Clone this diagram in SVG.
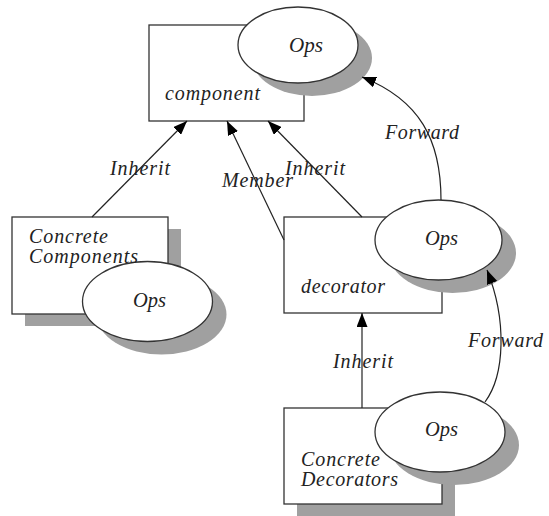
<svg xmlns="http://www.w3.org/2000/svg" width="549" height="516" viewBox="0 0 549 516">
<defs>
<style>
.box{fill:#fff;stroke:#333;stroke-width:1.3}
.shadow{fill:#a0a0a0;stroke:none}
.edge{fill:none;stroke:#222;stroke-width:1.2}
text{font-family:"Liberation Serif","Times New Roman",serif;font-style:italic;font-size:20px;fill:#222}
</style>
<marker id="arr" markerUnits="userSpaceOnUse" markerWidth="14" markerHeight="11" refX="14" refY="5.5" orient="auto">
<path d="M0,0 L14,5.5 L0,11 z" fill="#000"/>
</marker>
</defs>
<rect width="549" height="516" fill="#fff"/>

<g id="component">
<rect class="box" x="149" y="25" width="155" height="96"/>
<ellipse class="shadow" cx="312" cy="58" rx="60" ry="38"/>
<ellipse class="box" cx="298" cy="45" rx="60" ry="38"/>
<text x="289" y="52" textLength="34" lengthAdjust="spacingAndGlyphs">Ops</text>
<text x="165" y="100" textLength="95" lengthAdjust="spacing">component</text>
</g>

<g id="concrete-components">
<rect class="shadow" x="25" y="229" width="156" height="97"/>
<rect class="box" x="12" y="217" width="156" height="97"/>
<ellipse class="shadow" cx="161.5" cy="314.5" rx="65" ry="40"/>
<ellipse class="box" cx="147.5" cy="301.5" rx="65" ry="40"/>
<text x="29" y="243" textLength="79" lengthAdjust="spacing">Concrete</text>
<text x="29" y="263" textLength="109" lengthAdjust="spacing">Components</text>
<text x="133" y="307" textLength="33" lengthAdjust="spacingAndGlyphs">Ops</text>
</g>

<g id="decorator">
<rect class="box" x="284" y="217" width="158" height="96"/>
<ellipse class="shadow" cx="452.5" cy="253" rx="63.5" ry="40"/>
<ellipse class="box" cx="438.5" cy="240" rx="63.5" ry="40"/>
<text x="425" y="245" textLength="33" lengthAdjust="spacingAndGlyphs">Ops</text>
<text x="301" y="293" textLength="84" lengthAdjust="spacing">decorator</text>
</g>

<g id="concrete-decorators">
<rect class="shadow" x="297" y="420" width="158" height="96"/>
<rect class="box" x="284" y="408" width="158" height="96"/>
<ellipse class="shadow" cx="454" cy="445" rx="65" ry="40"/>
<ellipse class="box" cx="440" cy="432" rx="65" ry="40"/>
<text x="425" y="436" textLength="33" lengthAdjust="spacingAndGlyphs">Ops</text>
<text x="301" y="466" textLength="79" lengthAdjust="spacing">Concrete</text>
<text x="301" y="486" textLength="97" lengthAdjust="spacing">Decorators</text>
</g>

<g id="connectors">
<path class="edge" d="M92,217 L187,121" marker-end="url(#arr)"/>
<path class="edge" d="M284,240 L227,121" marker-end="url(#arr)"/>
<path class="edge" d="M362,217 L268,121" marker-end="url(#arr)"/>
<path class="edge" d="M362,408 L362,313" marker-end="url(#arr)"/>
<path class="edge" d="M441,200 C441,140 420,100 362,77" marker-end="url(#arr)"/>
<path class="edge" d="M485,402 C505,375 507,320 487,270" marker-end="url(#arr)"/>
<text x="110" y="175" textLength="60" lengthAdjust="spacing">Inherit</text>
<text x="222" y="187" textLength="71" lengthAdjust="spacing">Member</text>
<text x="285" y="175" textLength="60" lengthAdjust="spacing">Inherit</text>
<text x="333" y="368" textLength="60" lengthAdjust="spacing">Inherit</text>
<text x="385" y="139" textLength="74" lengthAdjust="spacing">Forward</text>
<text x="468" y="347" textLength="75" lengthAdjust="spacing">Forward</text>
</g>
</svg>
